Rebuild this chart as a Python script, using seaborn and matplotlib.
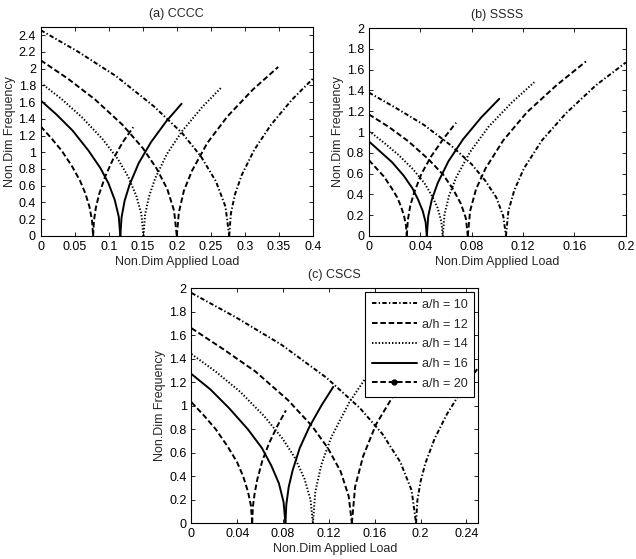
import matplotlib
matplotlib.use("Agg")
import matplotlib.pyplot as plt
from matplotlib.lines import Line2D
import seaborn as sns
import pandas as pd

# ---------------- data ----------------
ah_labels = ["a/h = 10", "a/h = 12", "a/h = 14", "a/h = 16", "a/h = 20"]

# (a) CCCC
cccc_desc_load = [
    [0, .0554, .1108, .1662, .2078, .2355, .2576, .2715, .277],
    [0, .04, .08, .12, .15, .17, .186, .196, .2],
    [0, .0302, .0604, .0906, .1133, .1284, .1404, .148, .151],
    [0, .0234, .0468, .0702, .0878, .0995, .1088, .1147, .117],
    [0, .0154, .0308, .0462, .0578, .0655, .0716, .0755, .077],
]
cccc_desc_freq = [
    [2.46, 2.20, 1.91, 1.55, 1.23, 0.95, 0.65, 0.35, 0],
    [2.10, 1.88, 1.63, 1.33, 1.05, 0.81, 0.56, 0.30, 0],
    [1.83, 1.64, 1.42, 1.16, 0.92, 0.71, 0.48, 0.26, 0],
    [1.62, 1.45, 1.26, 1.02, 0.81, 0.63, 0.43, 0.23, 0],
    [1.31, 1.17, 1.02, 0.83, 0.66, 0.51, 0.35, 0.18, 0],
]
cccc_asc_load = [
    [.277, .2795, .2856, .2955, .3139, .3385, .3693, .4],
    [.2, .203, .2104, .2224, .2447, .2745, .3118, .349],
    [.151, .1533, .1591, .1683, .1855, .2085, .2373, .266],
    [.117, .1188, .1233, .1305, .144, .162, .1845, .207],
    [.077, .0782, .0811, .0859, .0947, .1065, .1213, .136],
]
cccc_asc_freq = [
    [0, .27, .50, .73, 1.03, 1.33, 1.63, 1.88],
    [0, .28, .54, .78, 1.11, 1.43, 1.75, 2.02],
    [0, .25, .47, .69, .98, 1.26, 1.54, 1.78],
    [0, .22, .42, .61, .87, 1.12, 1.37, 1.58],
    [0, .18, .34, .50, .71, .92, 1.13, 1.30],
]

# (b) SSSS
ssss_desc_load = [
    [0, .0213, .0427, .064, .08, .0907, .0992, .1046, .1067],
    [0, .0154, .0308, .0462, .0578, .0655, .0716, .0755, .077],
    [0, .0115, .023, .0345, .0431, .0489, .0535, .0564, .0575],
    [0, .009, .018, .0271, .0338, .0383, .0419, .0442, .0451],
    [0, .0059, .0118, .0177, .0221, .0251, .0274, .0289, .0295],
]
ssss_desc_freq = [
    [1.38, 1.23, 1.07, .87, .69, .53, .37, .19, 0],
    [1.17, 1.05, .91, .74, .59, .45, .31, .17, 0],
    [1.01, .90, .78, .64, .51, .39, .27, .14, 0],
    [.91, .81, .71, .58, .46, .35, .24, .13, 0],
    [.73, .65, .57, .46, .37, .28, .19, .10, 0],
]
ssss_asc_load = [
    [.1067, .1086, .1132, .1207, .1347, .1534, .1767, .2],
    [.077, .0788, .0834, .0908, .1046, .123, .146, .169],
    [.0575, .0589, .0625, .0682, .0789, .0931, .1109, .1287],
    [.0451, .0462, .049, .0536, .0620, .0733, .0874, .1015],
    [.0295, .0303, .0322, .0353, .0410, .0487, .0583, .0679],
]
ssss_asc_freq = [
    [0, .24, .44, .65, .92, 1.18, 1.45, 1.67],
    [0, .24, .45, .65, .92, 1.19, 1.45, 1.68],
    [0, .21, .39, .57, .81, 1.05, 1.28, 1.48],
    [0, .19, .35, .51, .72, .93, 1.14, 1.32],
    [0, .15, .29, .42, .60, .77, .94, 1.09],
]

# (c) CSCS
cscs_desc_load = [
    [0, .0392, .0784, .1176, .147, .1666, .1823, .1921, .196],
    [0, .028, .056, .084, .105, .119, .1302, .1372, .14],
    [0, .0212, .0424, .0636, .0795, .0901, .0986, .1039, .106],
    [0, .0164, .0328, .0492, .0615, .0697, .0763, .0804, .082],
    [0, .0106, .0212, .0318, .0398, .0451, .0493, .0519, .053],
]
cscs_desc_freq = [
    [1.96, 1.75, 1.52, 1.24, .98, .76, .52, .28, 0],
    [1.66, 1.48, 1.29, 1.05, .83, .64, .44, .23, 0],
    [1.44, 1.29, 1.12, .91, .72, .56, .38, .20, 0],
    [1.27, 1.14, .98, .80, .64, .49, .34, .18, 0],
    [1.03, .92, .80, .65, .52, .40, .27, .15, 0],
]
cscs_asc_load = [
    [.196, .1971, .1998, .2041, .2122, .223, .2365, .25],
    [.14, .1428, .1498, .161, .182, .21],
    [.106, .1081, .1134, .1219, .1378, .153, .17],
    [.082, .0828, .0849, .0883, .0945, .1029, .1133, .1237],
    [.053, .0536, .0551, .0574, .0618, .0677, .0751, .0824],
]
cscs_asc_freq = [
    [0, .19, .35, .51, .72, .93, 1.14, 1.32],
    [0, .31, .57, .84, 1.18, 1.53],
    [0, .27, .50, .73, 1.03, 1.25, 1.46],
    [0, .16, .31, .45, .64, .82, 1.00, 1.16],
    [0, .14, .25, .37, .53, .68, .83, .96],
]

panel_titles = ["(a) CCCC", "(b) SSSS", "(c) CSCS"]
xticks_a = [0, 0.05, 0.1, 0.15, 0.2, 0.25, 0.3, 0.35, 0.4]
yticks_a = [0, 0.2, 0.4, 0.6, 0.8, 1, 1.2, 1.4, 1.6, 1.8, 2, 2.2, 2.4]
xticks_b = [0, 0.04, 0.08, 0.12, 0.16, 0.2]
yticks_b = [0, 0.2, 0.4, 0.6, 0.8, 1, 1.2, 1.4, 1.6, 1.8, 2]
xticks_c = [0, 0.04, 0.08, 0.12, 0.16, 0.2, 0.24]
yticks_c = [0, 0.2, 0.4, 0.6, 0.8, 1, 1.2, 1.4, 1.6, 1.8, 2]

# ---------------- styling ----------------
sns.set_theme(style="white")
plt.rcParams["font.family"] = ["Liberation Sans", "DejaVu Sans"]
plt.rcParams.update({
    "font.size": 9,
    "axes.edgecolor": "black",
    "axes.linewidth": 0.8,
    "lines.scale_dashes": False,
    "xtick.direction": "in",
    "ytick.direction": "in",
    "xtick.top": True,
    "ytick.right": True,
    "xtick.major.size": 3,
    "ytick.major.size": 3,
    "xtick.major.width": 0.6,
    "ytick.major.width": 0.6,
    "xtick.bottom": True,
    "ytick.left": True,
    "xtick.color": "black",
    "ytick.color": "black",
    "xtick.labelsize": 9,
    "ytick.labelsize": 9,
})

LW = 1.4
curve_styles = [
    dict(linestyle=(0, (3.2, 1.6, 1.0, 1.6))),
    dict(linestyle=(0, (4.0, 2.0))),
    dict(linestyle=(0, (1.0, 1.4))),
    dict(linestyle="-"),
    dict(linestyle=(0, (4.0, 2.0))),
]
legend_styles = [dict(s) for s in curve_styles]
legend_styles[4].update(marker=".", markersize=7)


def build_frame(dl, df, al, af):
    rows = []
    for i, lab in enumerate(ah_labels):
        for x, y in zip(dl[i], df[i]):
            rows.append((lab, "desc", x, y))
        for x, y in zip(al[i], af[i]):
            rows.append((lab, "asc", x, y))
    return pd.DataFrame(rows, columns=["ah", "branch", "load", "freq"])


frames = [
    build_frame(cccc_desc_load, cccc_desc_freq, cccc_asc_load, cccc_asc_freq),
    build_frame(ssss_desc_load, ssss_desc_freq, ssss_asc_load, ssss_asc_freq),
    build_frame(cscs_desc_load, cscs_desc_freq, cscs_asc_load, cscs_asc_freq),
]

fig = plt.figure(figsize=(6.36, 5.59), dpi=100)
axes = [
    fig.add_axes([0.064, 0.578, 0.428, 0.374]),
    fig.add_axes([0.580, 0.578, 0.404, 0.3716]),
    fig.add_axes([0.301, 0.064, 0.4505, 0.4204]),
]
limits = [((0, 0.4), (0, 2.5)), ((0, 0.2), (0, 2)), ((0, 0.25), (0, 2))]
ticks = [(xticks_a, yticks_a), (xticks_b, yticks_b), (xticks_c, yticks_c)]

for ax, frame, title, (xl, yl), (xt, yt) in zip(axes, frames, panel_titles, limits, ticks):
    for i, lab in enumerate(ah_labels):
        for br in ["desc", "asc"]:
            sub = frame[(frame["ah"] == lab) & (frame["branch"] == br)]
            sns.lineplot(data=sub, x="load", y="freq", ax=ax, color="black",
                         linewidth=LW, sort=False, estimator=None, legend=False,
                         **curve_styles[i])
    ax.set_xlim(*xl)
    ax.set_ylim(*yl)
    ax.set_xticks(xt)
    ax.set_yticks(yt)
    ax.set_xticklabels([f"{v:g}" for v in xt])
    ax.set_yticklabels([f"{v:g}" for v in yt])
    ax.set_xlabel("Non.Dim Applied Load", fontsize=9, labelpad=2)
    ax.set_ylabel("Non.Dim Frequency", fontsize=9, labelpad=2)
    ax.set_title(title, fontsize=9, pad=7)
    ax.tick_params(axis="both", pad=3.5)
    for s in ax.spines.values():
        s.set_visible(True)
        s.set_color("black")

handles = [Line2D([], [], color="black", linewidth=LW, **legend_styles[i]) for i in range(5)]
leg = axes[2].legend(handles, ah_labels, loc="upper right", fontsize=9,
                     frameon=True, fancybox=False, edgecolor="black",
                     framealpha=1, handlelength=3.6, numpoints=1,
                     borderaxespad=0.3, labelspacing=0.62, handletextpad=0.4,
                     borderpad=0.55)
leg.get_frame().set_linewidth(0.8)

fig.savefig("out.png", dpi=100)
